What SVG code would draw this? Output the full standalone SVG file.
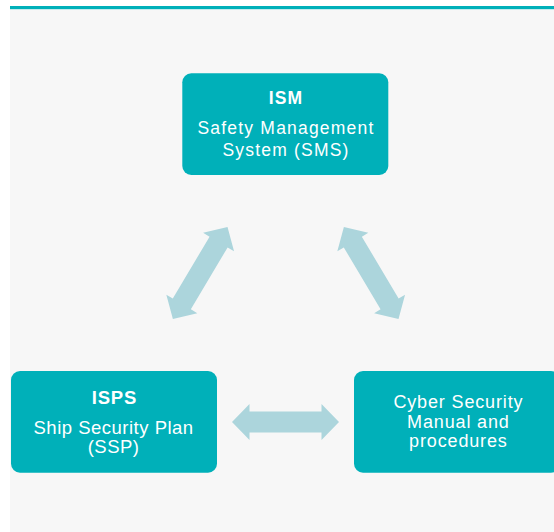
<svg xmlns="http://www.w3.org/2000/svg" width="554" height="532" viewBox="0 0 554 532">
<style>
.box{fill:#00b0b9}
.arr{fill:#acd5dc}
text{font-family:"Liberation Sans",Arial,sans-serif;fill:#ffffff;text-anchor:middle}
.t1{font-size:17.5px;letter-spacing:1.2px}
.t1b{font-size:17.5px;letter-spacing:1.2px;font-weight:bold}
.t2{font-size:18.5px;letter-spacing:0.5px}
.t2b{font-size:18.5px;letter-spacing:0.8px;font-weight:bold}
.t3{font-size:18px;letter-spacing:0.85px}
</style>
<defs>
<path id="dbl" d="M-53.5 0 L-36 -18 L-36 -10.5 L36 -10.5 L36 -18 L53.5 0 L36 18 L36 10.5 L-36 10.5 L-36 18 Z"/>
</defs>
<rect x="0" y="0" width="554" height="532" fill="#ffffff"/>
<rect x="10" y="9" width="544" height="523" fill="#f7f7f7"/>
<rect x="10" y="6" width="544" height="3" fill="#00b0b9"/>
<rect x="10" y="9" width="544" height="1" fill="#c6ecee"/>
<g id="connectors">
<use href="#dbl" class="arr" transform="translate(200.2 273) rotate(-59.3)"/>
<use href="#dbl" class="arr" transform="translate(371.2 273) rotate(59.3)"/>
<use href="#dbl" class="arr" transform="translate(285.5 422)"/>
</g>
<g id="ism">
<rect class="box" x="182.3" y="73.3" width="206" height="101.7" rx="9"/>
<text class="t1b" x="286" y="104.3">ISM</text>
<text class="t1" x="286" y="134">Safety Management</text>
<text class="t1" x="286" y="155.7">System (SMS)</text>
</g>
<g id="isps">
<rect class="box" x="11" y="371" width="206" height="101.7" rx="9"/>
<text class="t2b" x="114.4" y="404">ISPS</text>
<text class="t2" x="113.6" y="434">Ship Security Plan</text>
<text class="t2" x="113.6" y="453">(SSP)</text>
</g>
<g id="cyber">
<rect class="box" x="354" y="371" width="206" height="101.7" rx="9"/>
<text class="t3" x="458.4" y="408.3">Cyber Security</text>
<text class="t3" x="458.4" y="428.3">Manual and</text>
<text class="t3" x="458.4" y="447.3">procedures</text>
</g>
</svg>
